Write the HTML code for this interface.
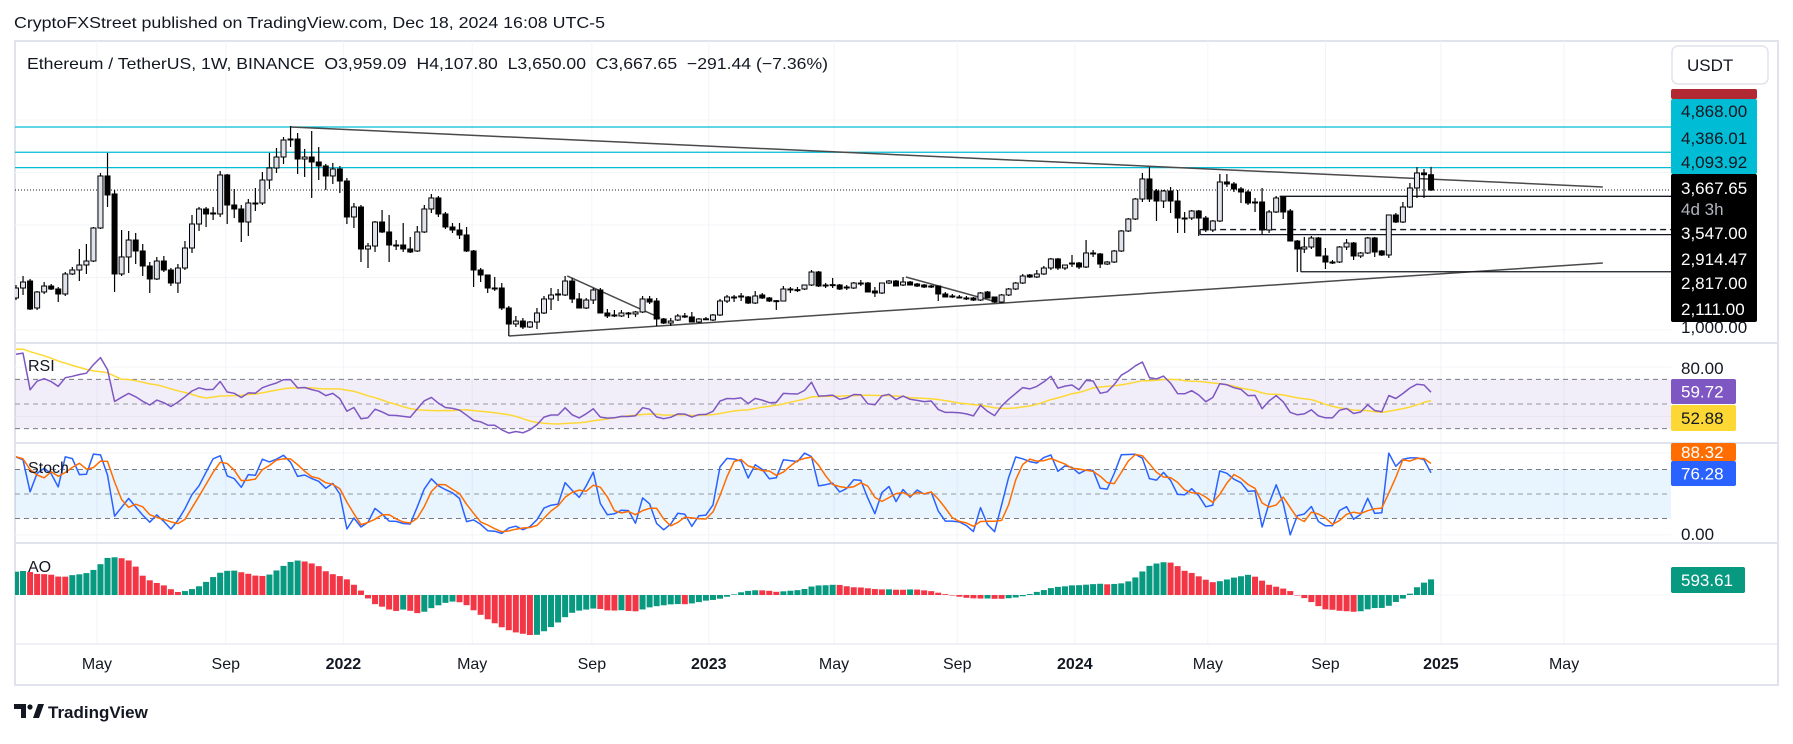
<!DOCTYPE html>
<html><head><meta charset="utf-8">
<style>
html,body{margin:0;padding:0;background:#fff;}
body{width:1793px;height:739px;overflow:hidden;font-family:"Liberation Sans",sans-serif;color:#131722;}
svg text{font-family:"Liberation Sans",sans-serif;}
</style></head>
<body>
<svg id="chart" width="1793" height="739" viewBox="0 0 1793 739" xmlns="http://www.w3.org/2000/svg">
  <defs>
    <clipPath id="plotClip"><rect x="15" y="41" width="1656" height="603"/></clipPath>
  </defs>
  <rect x="0" y="0" width="1793" height="739" fill="#fff"/>
  <text x="14" y="28" font-size="16" textLength="591" lengthAdjust="spacingAndGlyphs" fill="#131722">CryptoFXStreet published on TradingView.com, Dec 18, 2024 16:08 UTC-5</text>
  <rect x="15" y="41" width="1763" height="644" fill="none" stroke="#e0e3eb" stroke-width="2"/>
  <g id="grid"></g>
  <g id="bands"></g>
  <g id="panes" clip-path="url(#plotClip)"></g>
  <g id="seps">
    <line x1="15" y1="343" x2="1778" y2="343" stroke="#e0e3eb" stroke-width="2"/>
    <line x1="15" y1="443" x2="1778" y2="443" stroke="#e0e3eb" stroke-width="2"/>
    <line x1="15" y1="543" x2="1778" y2="543" stroke="#e0e3eb" stroke-width="2"/>
    <line x1="15" y1="644" x2="1778" y2="644" stroke="#e0e3eb" stroke-width="1"/>
  </g>
  <text x="27" y="69" font-size="16" textLength="801" lengthAdjust="spacingAndGlyphs" xml:space="preserve" fill="#131722">Ethereum / TetherUS, 1W, BINANCE  O3,959.09  H4,107.80  L3,650.00  C3,667.65  −291.44 (−7.36%)</text>
  <text x="28" y="371" font-size="16" fill="#131722">RSI</text>
  <text x="28" y="473" font-size="16" fill="#131722">Stoch</text>
  <text x="28" y="572" font-size="16" fill="#131722">AO</text>
  <g id="axis"></g>
  <g id="timeaxis"></g>
  <g>
    <rect x="1672" y="46" width="96" height="38" rx="6" fill="#fff" stroke="#e0e3eb" stroke-width="1.5"/>
    <text x="1687" y="71" font-size="17" fill="#131722">USDT</text>
  </g>
  <g>
    <path d="M14 704h12v14h-5v-9h-7z" fill="#131722"/>
    <circle cx="30" cy="707" r="2.6" fill="#131722"/>
    <path d="M33 718l5-14h6l-5 14z" fill="#131722"/>
    <text x="48" y="718" font-size="17" font-weight="bold" fill="#131722">TradingView</text>
  </g>
</svg>
<script>
const opens=[1611,1801,1934,1420,1725,1839,1782,1687,2068,2144,
2239,2315,2944,3935,3592,2068,2392,2715,2506,2220,
1973,2315,2144,1896,2182,2563,3020,3306,3211,3211,
3954,3382,3306,3058,3420,3420,3858,4087,4296,4620,
4639,4258,4296,4201,4125,3935,4068,3839,3154,3344,
2544,2601,3058,2868,2620,2620,2544,2506,2868,3306,
3516,3211,2963,2906,2811,2506,2144,2049,1801,1801,
1420,1115,1172,1058,1153,1325,1592,1687,1668,1934,
1592,1420,1572,1763,1325,1287,1268,1325,1306,1344,
1592,1553,1211,1134,1191,1268,1249,1153,1211,1191,
1287,1553,1630,1649,1630,1515,1668,1611,1553,1553,
1782,1763,1782,1858,2106,1858,1858,1858,1820,1801,
1896,1896,1744,1706,1896,1934,1858,1915,1877,1858,
1839,1839,1687,1649,1630,1611,1611,1572,1725,1630,
1534,1668,1782,1896,2049,2011,2068,2182,2354,2182,
2277,2277,2201,2468,2449,2258,2296,2506,2887,3115,
3496,3878,3649,3458,3649,3458,3134,3134,3268,3134,
2906,3077,3820,3782,3687,3630,3439,3439,2906,3249,
3535,3268,2696,2544,2582,2754,2411,2296,2296,2582,
2658,2411,2468,2754,2506,2430,3192,3058,3344,3706,
3992,3959];
const highs=[1858,2030,1973,1744,1915,1877,1820,2106,2201,2544,
2639,2963,3992,4373,3668,2906,2887,2849,2639,2296,
2392,2411,2182,2258,2696,3192,3344,3344,3344,4030,
3973,3687,3382,3496,3706,4011,4373,4468,4677,4887,
4753,4449,4791,4487,4163,4182,4125,3897,3420,3382,
2658,3077,3287,3192,2715,3039,2773,2982,3382,3592,
3554,3249,3039,3039,2963,2525,2182,2049,2011,1896,
1458,1268,1230,1172,1420,1649,1801,1782,2030,1992,
1706,1611,1801,1801,1401,1382,1382,1344,1363,1649,
1649,1611,1230,1230,1306,1325,1344,1230,1249,1306,
1592,1668,1668,1706,1649,1744,1706,1630,1572,1839,
1820,1820,1858,2144,2125,1896,1992,1877,1858,1915,
1953,1915,1820,1896,1953,1953,2011,1934,1896,1877,
1858,1839,1725,1687,1668,1649,1630,1725,1744,1630,
1687,1801,1915,2068,2068,2144,2220,2373,2373,2239,
2430,2296,2715,2525,2468,2315,2525,2906,3134,3516,
3992,4106,3687,3668,3725,3668,3249,3287,3287,3173,
3096,3973,3973,3820,3725,3668,3516,3706,3287,3554,
3554,3306,2715,2773,2792,2773,2563,2334,2601,2734,
2677,2487,2773,2773,2525,3192,3230,3439,3801,4106,
4068,4108];
const lows=[1572,1668,1382,1382,1687,1763,1534,1649,2049,1934,
2068,2296,2925,3344,1725,2030,2087,2258,2030,1706,
1953,2106,1839,1706,2144,2468,2887,2963,3096,3154,
3020,3134,2677,2792,3268,3382,3687,3992,4163,4487,
3973,3916,3516,3858,3668,3782,3611,3020,2944,2296,
2182,2487,2849,2296,2525,2487,2468,2487,2849,3230,
3154,2925,2849,2734,2487,1820,1915,1706,1744,1382,
887,1058,1020,1039,1020,1306,1382,1553,1649,1515,
1420,1401,1496,1325,1230,1249,1249,1230,1249,1325,
1496,1077,1115,1077,1172,1230,1153,1134,1191,1172,
1268,1515,1534,1553,1496,1496,1592,1534,1382,1553,
1706,1725,1763,1839,1820,1801,1801,1763,1763,1782,
1839,1725,1630,1687,1877,1839,1839,1858,1820,1801,
1801,1553,1630,1611,1611,1572,1553,1553,1611,1515,
1515,1649,1763,1877,1992,1992,2049,2144,2144,2144,
2201,2163,2182,2392,2182,2239,2277,2487,2868,3096,
3439,3439,3077,3325,3230,2849,2849,3096,2792,2868,
2868,3058,3725,3630,3420,3382,3249,2811,2849,3230,
3115,2696,2106,2468,2544,2411,2163,2258,2277,2525,
2334,2373,2449,2392,2411,2373,3039,3039,3325,3516,
3516,3650];
const closes=[1801,1915,1401,1725,1839,1782,1687,2068,2144,2239,
2315,2944,3935,3573,2068,2392,2715,2506,2220,1973,
2315,2144,1896,2182,2563,3020,3306,3211,3230,3954,
3382,3306,3058,3420,3401,3858,4087,4296,4620,4639,
4258,4296,4201,4125,3935,4068,3839,3154,3344,2544,
2601,3058,2868,2620,2610,2544,2487,2868,3306,3516,
3211,2963,2906,2811,2506,2144,2049,1801,1790,1420,
1115,1172,1058,1153,1325,1592,1668,1668,1934,1592,
1420,1572,1763,1325,1268,1280,1325,1320,1344,1592,
1534,1211,1134,1172,1268,1260,1153,1211,1215,1287,
1553,1630,1625,1645,1515,1649,1611,1553,1560,1782,
1775,1770,1858,2106,1839,1850,1865,1782,1815,1896,
1890,1725,1706,1896,1934,1839,1915,1858,1839,1820,
1830,1687,1630,1630,1625,1605,1572,1706,1611,1534,
1668,1782,1896,2030,2011,2068,2182,2354,2182,2239,
2270,2201,2468,2460,2258,2296,2506,2887,3115,3496,
3878,3496,3458,3649,3458,3134,3125,3268,3134,2906,
3077,3820,3782,3687,3630,3420,3430,2906,3249,3516,
3249,2696,2544,2582,2754,2411,2296,2290,2582,2658,
2411,2468,2754,2487,2430,3192,3058,3344,3706,3992,
3959,3668];
// weekly prices before the first visible candle (indicator warm-up history, oldest first)
const priorPrices=[380,420,400,390,370,360,380,360,350,360,370,380,400,420,460,480,520,570,590,580,600,620,700,800,1000,1050,1200,1250,1350,1500,1700,1750,1650];
const timeTickIdx=[11.5,29.8,46.5,64.8,81.8,98.4,116.2,133.7,150.4,169.3,186,202.4,219.9];
const timeTickLabels=['May','Sep','2022','May','Sep','2023','May','Sep','2024','May','Sep','2025','May'];
const priceGrid=[1000,2000,3000,4000,5000];
const cyanLevels=[4868,4386.01,4093.92];
const lastPrice=3667.65;
const trendLines=[[39,4868,225.4,3725],[70,887,225.4,2277],[78.3,2030,91.5,1230],[126.4,2011,139.3,1534]];
const levelLines=[[3547,179.5,'solid'],[2914.47,168.2,'dash'],[2817,168.2,'solid'],[2111,182.5,'solid']];
const rsiLevels=[70,50,30];
const stochLevels=[80,50,20];

const NS='http://www.w3.org/2000/svg';
function mk(tag,attrs,parent){const e=document.createElementNS(NS,tag);for(const k in attrs)e.setAttribute(k,attrs[k]);parent.appendChild(e);return e;}
const xOf=i=>16+i*7.04;
const yMain=p=>190-(p-3667.65)*0.0525;
const yRsi=v=>404-(v-50)*1.233;
const yStoch=v=>494-(v-50)*0.817;
const yAO=v=>595-v*0.0255;
const X0=15,X1=1671;
const grid=document.getElementById('grid');
const bands=document.getElementById('bands');
const panes=document.getElementById('panes');
const axis=document.getElementById('axis');
const taxis=document.getElementById('timeaxis');

timeTickIdx.forEach((t,k)=>{
  const x=xOf(t);
  const gl=mk('line',{x1:x,y1:41,x2:x,y2:644,stroke:'#f2f4f8','stroke-width':1},grid);
  
  
  const isYear=/^\d+$/.test(timeTickLabels[k]);
  const tl=mk('text',{x:x,y:669,'font-size':16,'text-anchor':'middle',fill:'#131722','font-weight':isYear?'bold':'normal'},taxis);
  tl.textContent=timeTickLabels[k];
  
  
});
priceGrid.forEach(p=>{
  const gl=mk('line',{x1:X0,y1:yMain(p),x2:X1,y2:yMain(p),stroke:'#f2f4f8','stroke-width':1},grid);
  
  
});
[yAO(0),yRsi(80),yRsi(40),yStoch(100),yStoch(0)].forEach(y=>{
  const gl=mk('line',{x1:X0,y1:y,x2:X1,y2:y,stroke:'#f2f4f8','stroke-width':1},grid);
  
  
});
const rb=mk('rect',{x:X0,y:yRsi(70),width:X1-X0,height:yRsi(30)-yRsi(70),fill:'#7e57c2','fill-opacity':0.1},bands);


const sb=mk('rect',{x:X0,y:yStoch(80),width:X1-X0,height:yStoch(20)-yStoch(80),fill:'#2196f3','fill-opacity':0.1},bands);


rsiLevels.forEach(v=>{
  const l=mk('line',{x1:X0,y1:yRsi(v),x2:X1,y2:yRsi(v),stroke:v===50?'#9598a1':'#787b86','stroke-width':1,'stroke-dasharray':'5,4'},bands);
  
  
});
stochLevels.forEach(v=>{
  const l=mk('line',{x1:X0,y1:yStoch(v),x2:X1,y2:yStoch(v),stroke:v===50?'#9598a1':'#787b86','stroke-width':1,'stroke-dasharray':'5,4'},bands);
  
  
});

cyanLevels.forEach(p=>{
  const l=mk('line',{x1:X0,y1:yMain(p),x2:X1,y2:yMain(p),stroke:'#00bcd4','stroke-width':1.3},panes);
  
  
});
const lp=mk('line',{x1:X0,y1:yMain(lastPrice),x2:X1,y2:yMain(lastPrice),stroke:'#131722','stroke-width':1,'stroke-dasharray':'1,2'},panes);


trendLines.forEach(t=>{
  const l=mk('line',{x1:xOf(t[0]),y1:yMain(t[1]),x2:xOf(t[2]),y2:yMain(t[3]),stroke:'#4a4a4a','stroke-width':1.5},panes);
  
  
});
levelLines.forEach(t=>{
  const a={x1:xOf(t[1]),y1:yMain(t[0]),x2:X1,y2:yMain(t[0]),stroke:'#131722','stroke-width':1.3};
  if(t[2]==='dash')a['stroke-dasharray']='6,4';
  const l=mk('line',a,panes);
  
  
});
const vseg1=mk('line',{x1:xOf(182.5),y1:yMain(2582),x2:xOf(182.5),y2:yMain(2111),stroke:'#131722','stroke-width':1.3},panes);


const vseg2=mk('line',{x1:xOf(168.2),y1:yMain(2914.47),x2:xOf(168.2),y2:yMain(2817),stroke:'#131722','stroke-width':1.3},panes);



const N=closes.length;
for(let i=0;i<N;i++){
  const x=xOf(i),up=closes[i]>=opens[i];
  const g=mk('g',{},panes);
  
  
  mk('line',{x1:x,y1:yMain(highs[i]),x2:x,y2:yMain(lows[i]),stroke:'#000','stroke-width':1.2},g);
  const top=yMain(Math.max(opens[i],closes[i])),bot=yMain(Math.min(opens[i],closes[i]));
  mk('rect',{x:x-2.5,y:top,width:5,height:Math.max(bot-top,1),fill:up?'#e0e3eb':'#000',stroke:'#000','stroke-width':1},g);
}

// indicators computed from OHLC (with warm-up history)
const P=priorPrices.length;
const eC=priorPrices.concat(closes),eH=priorPrices.concat(highs),eL=priorPrices.concat(lows);
const M=eC.length;
const eRsi=[];
let ag=0,al=0;
for(let i=0;i<M;i++){
  if(i===0){eRsi.push(50);continue;}
  const d=eC[i]-eC[i-1];
  const g=Math.max(d,0),l=Math.max(-d,0);
  if(i===1){ag=g;al=l;}else{ag=(ag*13+g)/14;al=(al*13+l)/14;}
  eRsi.push(al===0?100:100-100/(1+ag/al));
}
const avg=(arr,i,n)=>{const s=arr.slice(Math.max(0,i-n+1),i+1);return s.reduce((a,b)=>a+b,0)/s.length;};
const eRsiMA=eRsi.map((v,i)=>avg(eRsi,i,14));
const eK=[];
for(let i=0;i<M;i++){
  const hh=Math.max(...eH.slice(Math.max(0,i-13),i+1)),ll=Math.min(...eL.slice(Math.max(0,i-13),i+1));
  eK.push(hh===ll?50:100*(eC[i]-ll)/(hh-ll));
}
const eD=eK.map((v,i)=>avg(eK,i,3));
const eMed=eH.map((h,i)=>(h+eL[i])/2);
const eAO=eMed.map((m,i)=>avg(eMed,i,5)-avg(eMed,i,34));
const rsi=eRsi.slice(P),rsiMA=eRsiMA.slice(P),K=eK.slice(P),D=eD.slice(P),ao=eAO.slice(P);

function poly(vals,yf,color,w,name){
  const pts=vals.map((v,i)=>xOf(i).toFixed(1)+','+yf(v).toFixed(1)).join(' ');
  const p=mk('polyline',{points:pts,fill:'none',stroke:color,'stroke-width':w,'stroke-linejoin':'round'},panes);
  
  
}
poly(rsiMA,yRsi,'#fdd835',1.5,'rsi-ma-line');
poly(rsi,yRsi,'#7e57c2',1.5,'rsi-line');
poly(K,yStoch,'#2962ff',1.5,'stoch-k-line');
poly(D,yStoch,'#ff6d00',1.5,'stoch-d-line');
for(let i=0;i<N;i++){
  const v=ao[i],rising=v>=eAO[P+i-1];
  const y0=yAO(0),y1=yAO(v);
  const b=mk('rect',{x:xOf(i)-3,y:Math.min(y0,y1),width:6,height:Math.max(Math.abs(y1-y0),0.5),fill:rising?'#089981':'#f23645'},panes);
  
  
}

function label(y,h,bg,txt,fg,name,w){
  const g=mk('g',{},axis);
  
  
  if(bg)mk('rect',{x:1671,y:y,width:w||86,height:h,fill:bg,rx:2},g);
  const t=mk('text',{x:1681,y:y+h/2+6,'font-size':17,fill:fg},g);
  t.textContent=txt;
  return g;
}
const bg1=mk('text',{x:1681,y:333,'font-size':17,fill:'#131722'},axis);bg1.textContent='1,000.00';


label(89,10,'#b22833','','#fff','last-high-label');
label(99,75,'#00bcd4','','#131722','resistance-labels-box');
[['4,868.00',111],['4,386.01',138],['4,093.92',162]].forEach(a=>{const t=mk('text',{x:1681,y:a[1]+6,'font-size':17,fill:'#131722'},axis);t.textContent=a[0];

});
label(174,148,'#000','','#fff','support-labels-box');
[['3,667.65',188,'#fff'],['4d 3h',209,'#b2b5be'],['3,547.00',233,'#fff'],['2,914.47',259,'#fff'],['2,817.00',283,'#fff'],['2,111.00',309,'#fff']].forEach(a=>{const t=mk('text',{x:1681,y:a[1]+6,'font-size':17,fill:a[2]},axis);t.textContent=a[0];

});
const r80=mk('text',{x:1681,y:374,'font-size':17,fill:'#131722'},axis);r80.textContent='80.00';


label(379,25,'#7e57c2','59.72','#fff','rsi-value-label',65);
label(405,26,'#fdd835','52.88','#131722','rsi-ma-value-label',65);
label(443,18,'#ff6d00','88.32','#fff','stoch-d-value-label',65);
label(461,25,'#2962ff','76.28','#fff','stoch-k-value-label',65);
const s0=mk('text',{x:1681,y:540,'font-size':17,fill:'#131722'},axis);s0.textContent='0.00';


label(567,26,'#089981','593.61','#fff','ao-value-label',74);
</script>
</body></html>
